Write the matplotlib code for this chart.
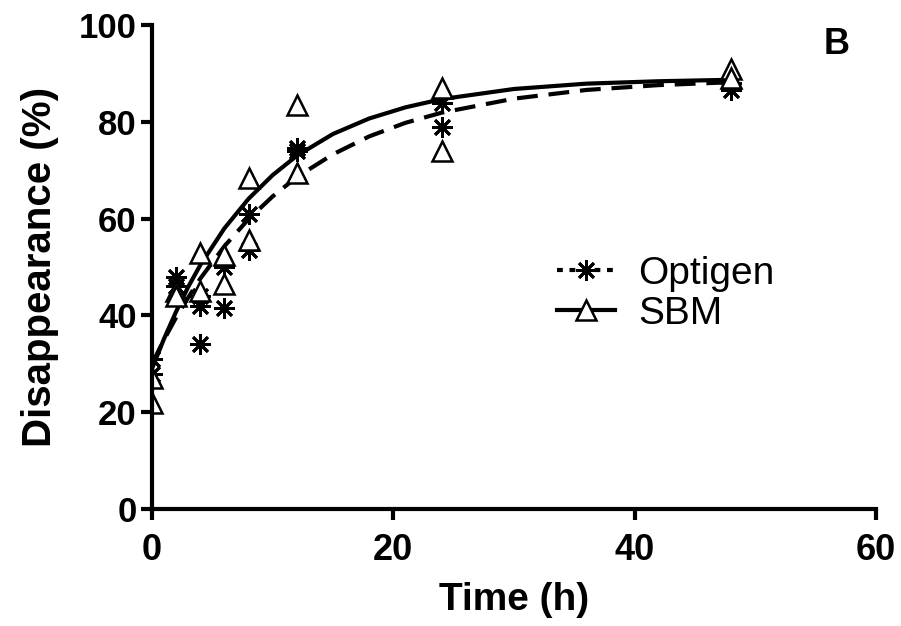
import numpy as np
import matplotlib.pyplot as plt
from matplotlib.lines import Line2D

# measured points (time in h, disappearance in %)
opt_t = [0, 0, 2, 2, 4, 4, 4, 6, 6, 8, 8, 12, 12, 24, 24, 48, 48]
opt_y = [31, 28, 48, 46, 44, 42, 34, 50, 41.5, 61, 53.5, 74.5, 74, 84, 79, 88, 86.5]
sbm_t = [0, 0, 2, 2, 4, 4, 6, 6, 8, 8, 12, 12, 24, 24, 48, 48]
sbm_y = [27, 22, 45, 44, 53, 45, 52.5, 46.5, 68.5, 55.5, 83.5, 69.5, 87, 74, 91, 89]

# fitted curves
curve_t = [0, 1, 2, 3, 4, 6, 8, 10, 12, 15, 18, 21, 24, 30, 36, 42, 48]
opt_fit = [30, 35.0, 39.6, 43.7, 47.6, 54.3, 59.9, 64.6, 68.6, 73.3, 77.0, 79.8,
           81.9, 84.8, 86.6, 87.6, 88.2]
sbm_fit = [29, 35.2, 40.8, 45.9, 50.4, 58.0, 64.1, 69.0, 73.0, 77.5, 80.7, 83.0,
           84.7, 86.8, 87.9, 88.4, 88.7]

plt.rcParams['font.family'] = ['Liberation Sans', 'DejaVu Sans']

fig = plt.figure(figsize=(9.01, 6.26), dpi=100)
ax = fig.add_axes([0.1687, 0.1869, 0.8035, 0.773])

star = (8, 2, 0)
ax.plot(curve_t, opt_fit, color='black', lw=3, ls=(0, (5, 2.6)))
ax.plot(curve_t, sbm_fit, color='black', lw=3)
ax.plot(opt_t, opt_y, ls='none', marker=star, ms=15, mec='black', mew=2)
ax.plot(sbm_t, sbm_y, ls='none', marker='^', ms=15, mfc='white', mec='black', mew=1.8)

ax.set_xlim(0, 60)
ax.set_ylim(0, 100)
ax.set_xticks([0, 20, 40, 60])
ax.set_yticks([0, 20, 40, 60, 80, 100])
for s in ['top', 'right']:
    ax.spines[s].set_visible(False)
for s in ['left', 'bottom']:
    ax.spines[s].set_linewidth(3)
ax.tick_params(width=3, length=8, pad=3)
ax.tick_params(axis='y', labelsize=25)
ax.tick_params(axis='x', labelsize=26, pad=9)
for lab in ax.get_xticklabels() + ax.get_yticklabels():
    lab.set_fontweight('bold')

ax.set_xlabel('Time (h)', fontsize=28, fontweight='bold')
ax.xaxis.set_label_coords(0.5, -0.15)
ax.set_ylabel('Disappearance (%)', fontsize=29, fontweight='bold', va='center')
ax.yaxis.set_label_coords(-0.155, 0.5)

ax.text(0.945, 0.96, 'B', transform=ax.transAxes, fontsize=26, fontweight='bold',
        ha='center', va='center')

handles = [
    Line2D([], [], color='black', lw=3, ls=(0, (1.4, 1.6)), marker=star, ms=15, mew=2),
    Line2D([], [], color='black', lw=3, marker='^', ms=15, mfc='white', mec='black', mew=1.8),
]
ax.legend(handles, ['Optigen', 'SBM'], loc='upper left', bbox_to_anchor=(0.559, 0.523),
          frameon=False, fontsize=28, handlelength=1.5, handletextpad=0.6,
          labelspacing=0.1, borderaxespad=0, borderpad=0)

fig.savefig('out.png', dpi=100)
